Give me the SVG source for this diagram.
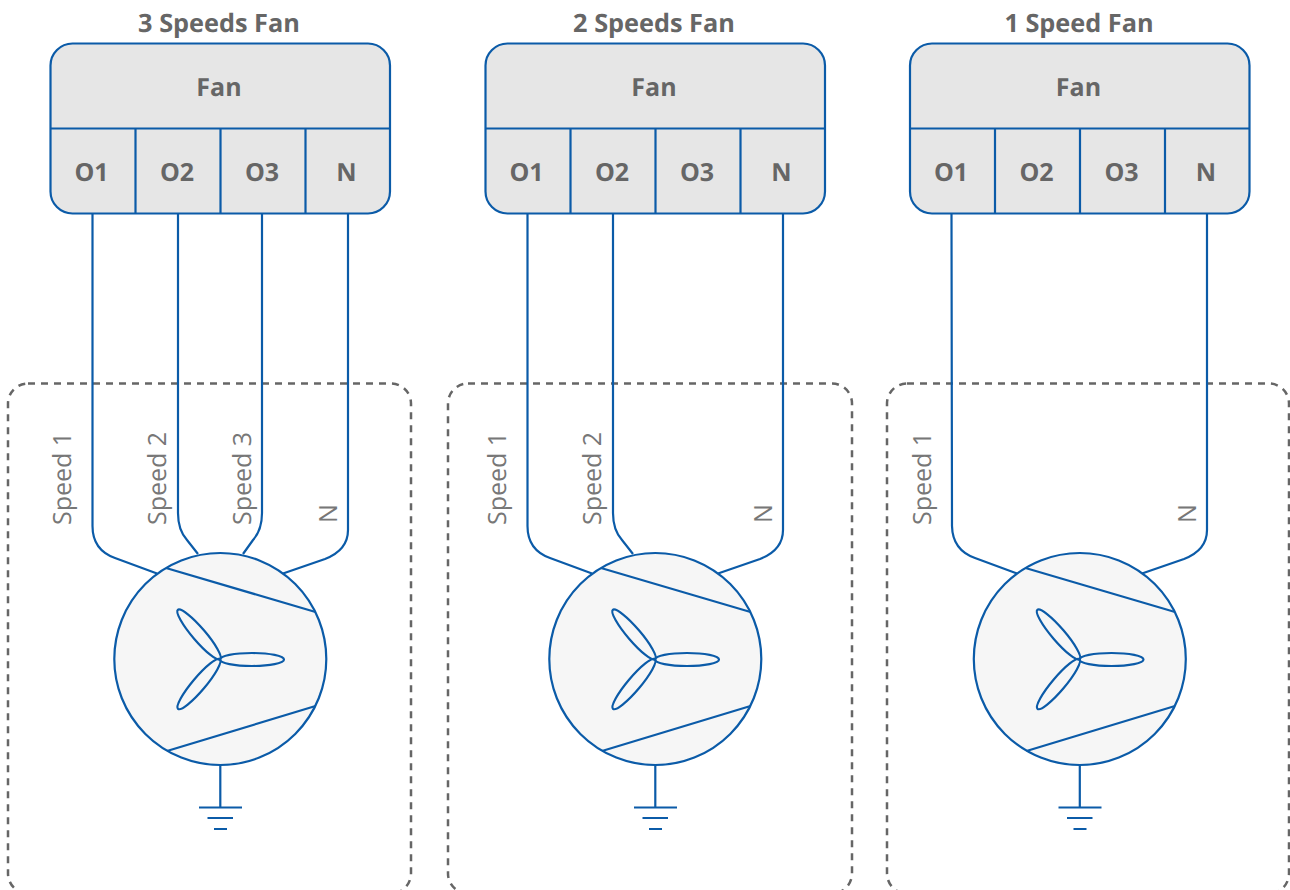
<svg xmlns="http://www.w3.org/2000/svg" width="1290" height="890" viewBox="0 0 1290 890">
<style>
text{font-family:"Open Sans","Noto Sans","Liberation Sans",sans-serif;fill:#666;text-rendering:geometricPrecision}
.t{font-size:25.300px;font-weight:700;text-anchor:middle}
.c{font-size:25px;font-weight:700;text-anchor:middle}
.l{font-size:25px;font-weight:400;fill:#777}
.b{fill:#e6e6e6;stroke:#0b5ba8;stroke-width:2.200}
.w{fill:none;stroke:#0b5ba8;stroke-width:2.200}
.m{fill:#f6f6f6;stroke:#0b5ba8;stroke-width:2.200}
.d{fill:none;stroke:#666;stroke-width:2.500;stroke-dasharray:7 6}
</style>
<defs>
<g id="motor">
<circle class="m" cx="220.300" cy="659" r="106"/>
<path class="w" d="M166 568L315.500 612M167 751L315.500 706"/>
<ellipse class="w" cx="252" cy="659.500" rx="32" ry="6.500"/>
<ellipse class="w" cx="199" cy="634.500" rx="32.500" ry="6.500" transform="rotate(49.400 199 634.500)"/>
<ellipse class="w" cx="199" cy="684" rx="32.500" ry="6.500" transform="rotate(-49.800 199 684)"/>
<path class="w" d="M220.300 765V807M199 807.500H242M207.500 818H233M214 829H227"/>
</g>
<g id="box">
<rect class="b" x="50.500" y="43.500" width="339.500" height="170" rx="22"/>
<path class="w" d="M50.500 128.500H390M135.500 128.500V213.500M220.500 128.500V213.500M305.500 128.500V213.500"/>
</g>
</defs>
<g id="containers">
<rect class="d" x="8" y="383.500" width="403" height="510" rx="20"/>
<rect class="d" x="448" y="383.500" width="404" height="510" rx="20"/>
<rect class="d" x="887" y="383.500" width="402" height="510" rx="20"/>
</g>
<g id="connectors">
<path class="w" d="M92.500 213V526Q92.500 550 115 558L157 573.500"/>
<path class="w" d="M178 213V513Q178 530 187 540L198 554"/>
<path class="w" d="M262 213V513Q262 530 253 540L243 554"/>
<path class="w" d="M348 213V530Q348 550 325 559L283 573.500"/>
<path class="w" d="M527.500 213V526Q527.500 550 550 558L592 573.500"/>
<path class="w" d="M613 213V513Q613 530 622 540L633 554"/>
<path class="w" d="M783 213V530Q783 550 760 559L718 573.500"/>
<path class="w" d="M951.500 213L952 526Q952.500 550 975 558L1017 573.500"/>
<path class="w" d="M1207 213V530Q1207 550 1184 559L1142 573.500"/>
</g>
<g id="fan-3">
<text class="t" x="219" y="31.500">3 Speeds Fan</text>
<use href="#box"/>
<text class="c" x="219" y="95.500">Fan</text>
<text class="c" x="91.500" y="180.500">O1</text><text class="c" x="177" y="180.500">O2</text><text class="c" x="262" y="180.500">O3</text><text class="c" x="346.500" y="180.500">N</text>
</g>
<g id="fan-2">
<text class="t" x="654" y="31.500">2 Speeds Fan</text>
<use href="#box" x="435"/>
<text class="c" x="654" y="95.500">Fan</text>
<text class="c" x="526.500" y="180.500">O1</text><text class="c" x="612" y="180.500">O2</text><text class="c" x="697" y="180.500">O3</text><text class="c" x="781.500" y="180.500">N</text>
</g>
<g id="fan-1">
<text class="t" x="1079" y="31.500">1 Speed Fan</text>
<use href="#box" x="859.500"/>
<text class="c" x="1078.500" y="95.500">Fan</text>
<text class="c" x="951" y="180.500">O1</text><text class="c" x="1036.500" y="180.500">O2</text><text class="c" x="1121.500" y="180.500">O3</text><text class="c" x="1206" y="180.500">N</text>
</g>
<g id="motor-3">
<use href="#motor"/>
<text class="l" transform="translate(71 525) rotate(-90)">Speed 1</text>
<text class="l" transform="translate(166 525) rotate(-90)">Speed 2</text>
<text class="l" transform="translate(251 525) rotate(-90)">Speed 3</text>
<text class="l" transform="translate(337 523) rotate(-90)">N</text>
</g>
<g id="motor-2">
<use href="#motor" x="435"/>
<text class="l" transform="translate(506 525) rotate(-90)">Speed 1</text>
<text class="l" transform="translate(601 525) rotate(-90)">Speed 2</text>
<text class="l" transform="translate(772 523) rotate(-90)">N</text>
</g>
<g id="motor-1">
<use href="#motor" x="859.500"/>
<text class="l" transform="translate(930.500 525) rotate(-90)">Speed 1</text>
<text class="l" transform="translate(1196 523) rotate(-90)">N</text>
</g>
</svg>
